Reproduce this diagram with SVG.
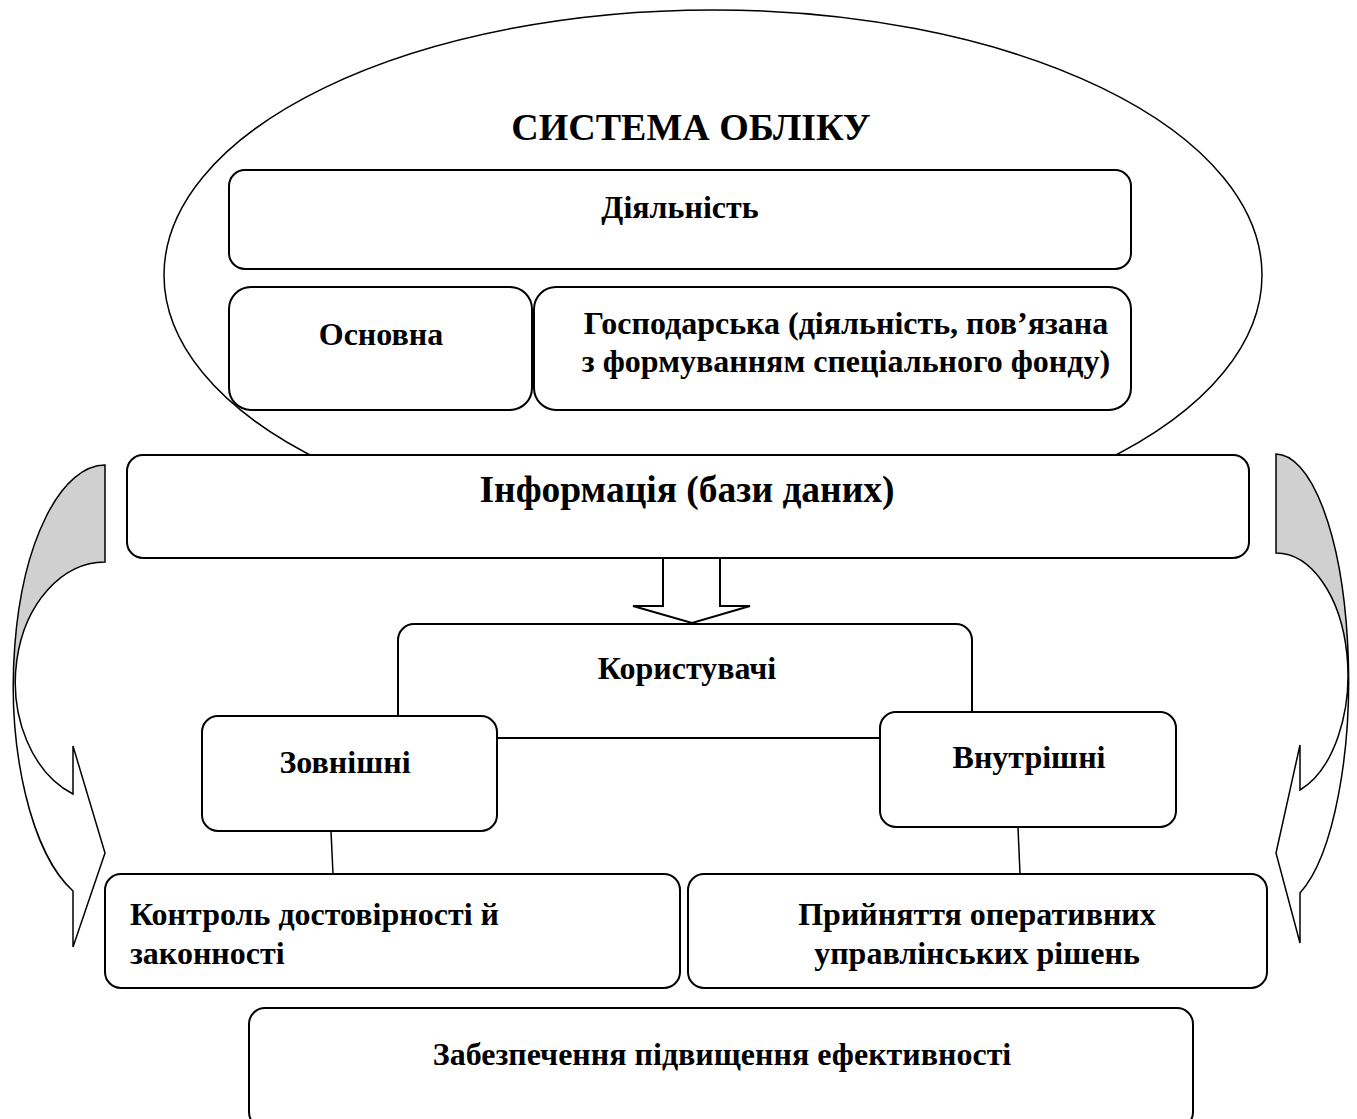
<svg xmlns="http://www.w3.org/2000/svg" width="1357" height="1119" viewBox="0 0 1357 1119">
<style>
.b{fill:#fff;stroke:#000;stroke-width:2}
.t{font-family:"Liberation Serif","Times New Roman",serif;font-weight:bold;font-size:32px;fill:#000}
.c{text-anchor:middle}
.ln{stroke:#000;stroke-width:1.5;fill:none}
.g{fill:#d0d0d0;stroke:none}
</style>
<rect width="1357" height="1119" fill="#fff"/>
<g id="system">
<ellipse cx="713" cy="275" rx="549" ry="265" fill="#fff" stroke="#000" stroke-width="1.5"/>
<text class="t c" x="691" y="140" style="font-size:38px">СИСТЕМА ОБЛІКУ</text>
</g>
<g id="activity">
<rect class="b" x="229" y="170" width="902" height="99" rx="16"/>
<text class="t c" x="680" y="218">Діяльність</text>
</g>
<g id="main">
<rect class="b" x="229" y="287" width="303" height="123" rx="22"/>
<text class="t c" x="381" y="345">Основна</text>
</g>
<g id="economic">
<rect class="b" x="534" y="287" width="597" height="123" rx="22"/>
<text class="t c" x="846" y="334">Господарська (діяльність, пов’язана</text>
<text class="t c" x="846" y="372">з формуванням спеціального фонду)</text>
</g>
<g id="info">
<rect class="b" x="127" y="455" width="1122" height="103" rx="16"/>
<text class="t c" x="687" y="502" style="font-size:37.5px">Інформація (бази даних)</text>
</g>
<g id="connectors">
<path class="b" d="M663,558 L720,558 L720,606 L750,606 L692,623 L633,606 L663,606 Z"/>
<line class="ln" x1="331" y1="831" x2="333" y2="874"/>
<line class="ln" x1="1018" y1="827" x2="1020" y2="874"/>
<path class="g" d="M105,465 A92,220 0 0 0 13,685 L15,682 A90,120 0 0 1 105,562 Z"/>
<path class="ln" d="M105,465 A92,220 0 0 0 73,891 L73,947 L105,853 L73,746 L73,794 A90,120 0 0 1 105,562 Z"/>
<path class="g" d="M1276,454 A73,226 0 0 1 1349,680 L1348,675 A72,122 0 0 0 1276,553 Z"/>
<path class="ln" d="M1276,454 A73,226 0 0 1 1300,893 L1300,943 L1276,853 L1300,745 L1300,790 A72,122 0 0 0 1276,553 Z"/>
</g>
<g id="users">
<rect class="b" x="398" y="624" width="574" height="114" rx="16"/>
<text class="t c" x="687" y="679">Користувачі</text>
</g>
<g id="external">
<rect class="b" x="202" y="716" width="295" height="115" rx="16"/>
<text class="t c" x="345" y="773">Зовнішні</text>
</g>
<g id="internal">
<rect class="b" x="880" y="712" width="296" height="115" rx="16"/>
<text class="t c" x="1029" y="768">Внутрішні</text>
</g>
<g id="control">
<rect class="b" x="105" y="874" width="575" height="114" rx="16"/>
<text class="t" x="130" y="925">Контроль достовірності й</text>
<text class="t" x="130" y="964">законності</text>
</g>
<g id="decisions">
<rect class="b" x="688" y="874" width="579" height="114" rx="16"/>
<text class="t c" x="977" y="925">Прийняття оперативних</text>
<text class="t c" x="977" y="964">управлінських рішень</text>
</g>
<g id="efficiency">
<rect class="b" x="249" y="1008" width="944" height="120" rx="16"/>
<text class="t c" x="722" y="1065">Забезпечення підвищення ефективності</text>
</g>
</svg>
